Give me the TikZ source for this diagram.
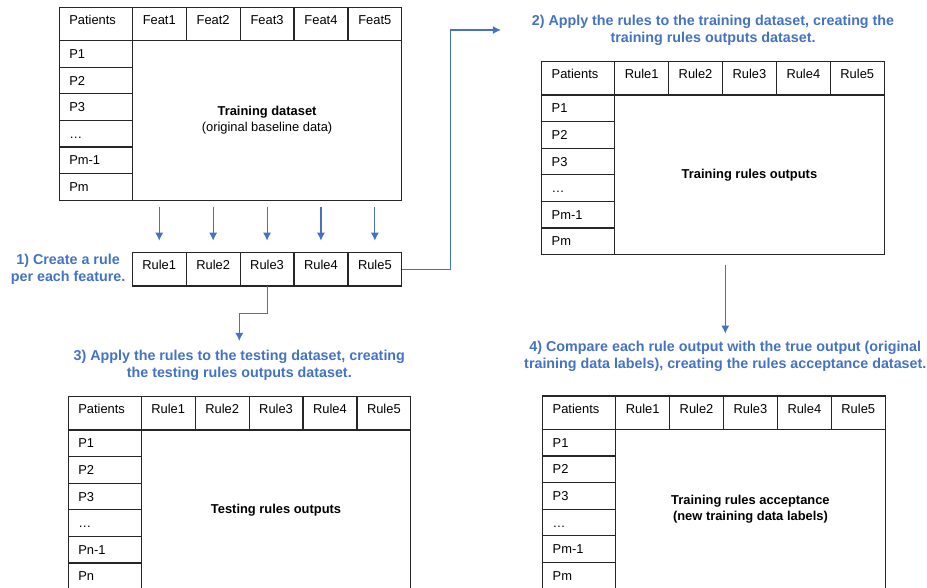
\documentclass[tikz,border=0pt]{standalone}
\usepackage{fontspec}
\setmainfont{Liberation Sans}
\usepackage{tikz}
\usetikzlibrary{arrows.meta}
\usetikzlibrary{positioning}
\definecolor{stepblue}{HTML}{4472C4}
\definecolor{gridline}{HTML}{262626}

\begin{document}
\begin{tikzpicture}[
        x=1pt, y=-1pt,
        font=\fontsize{12.9}{15.6}\selectfont,
        every node/.style={inner sep=0pt, outer sep=0pt},
        cell/.style={draw=gridline, line width=1.2pt, minimum width=53.9pt, minimum height=26.6pt, text height=9.2pt, text depth=0pt},
        head/.style={cell, minimum height=33.3pt, text depth=8pt},
        idcell/.style={minimum width=73pt, text width=53pt, inner xsep=10pt, align=left},
        datacell/.style={cell, minimum width=269.5pt, minimum height=159.6pt, text height=, text depth=, align=center},
        note/.style={text=stepblue, font=\fontsize{14.3}{16.8}\selectfont\bfseries, align=center},
        flow/.style={draw=stepblue, line width=1.1pt, -{Latex[length=8pt,width=8pt]}}
    ]
    \useasboundingbox (0,0) rectangle (927,587);
    \clip (0,0) rectangle (927,587);

    % the four patient tables
    \foreach \tbl/\px/\py/\hdr/\lastid/\txt in {
        train/59.3/7.3/Feat/m/{\textbf{Training dataset}\\(original baseline data)},
        trainout/541.7/61.7/Rule/m/{\textbf{Training rules outputs}},
        testout/68.3/396.7/Rule/n/{\textbf{Testing rules outputs}},
        accept/542.7/396/Rule/m/{\textbf{Training rules acceptance}\\\textbf{(new training data labels)}}}
    {
        \node[head, idcell, anchor=north west] (\tbl-h0) at (\px,\py) {Patients};
        \foreach \col [remember=\col as \prev (initially 0)] in {1,...,5}
            \node[head, right=0pt of \tbl-h\prev] (\tbl-h\col) {\hdr\col};
        \foreach \row/\pid [remember=\row as \prev (initially h0)] in {r1/P1, r2/P2, r3/P3, r4/…, r5/P\lastid-1, r6/P\lastid}
            \node[cell, idcell, below=0pt of \tbl-\prev] (\tbl-\row) {\pid};
        \node[datacell, anchor=north west] (\tbl-data) at (\tbl-h1.south west) {\txt};
    }

    % rules created from the features
    \node[head, anchor=north west] (rule1) at (132.3,252.7) {Rule1};
    \foreach \col [remember=\col as \prev (initially 1)] in {2,...,5}
        \node[head, right=0pt of rule\prev] (rule\col) {Rule\col};
    \foreach \col in {1,...,5}
        \draw[flow, shorten <=7pt, shorten >=12pt] (train-data.south -| rule\col) -- (rule\col);

    % steps
    \node[note, left=7pt of rule1] (step1) {1) Create a rule\\per each feature.};
    \node[note] (step2) at (713,30) {2) Apply the rules to the training dataset, creating the\\training rules outputs dataset.};
    \node[note] (step3) at (239.3,365) {3) Apply the rules to the testing dataset, creating\\the testing rules outputs dataset.};
    \node[note] (step4) at (725.3,356.7) {4) Compare each rule output with the true output (original\\training data labels), creating the rules acceptance dataset.};

    \draw[flow, shorten >=31pt] (rule5.east) -| ([xshift=-81pt]step2.west) -- (step2.west);
    \draw[flow, shorten >=9pt] (rule3.south) -- ++(0,27.6) -| (step3.north);
    \draw[flow, shorten <=10pt, shorten >=8pt] (trainout-data.south -| step4.north) -- (step4.north);
\end{tikzpicture}
\end{document}
